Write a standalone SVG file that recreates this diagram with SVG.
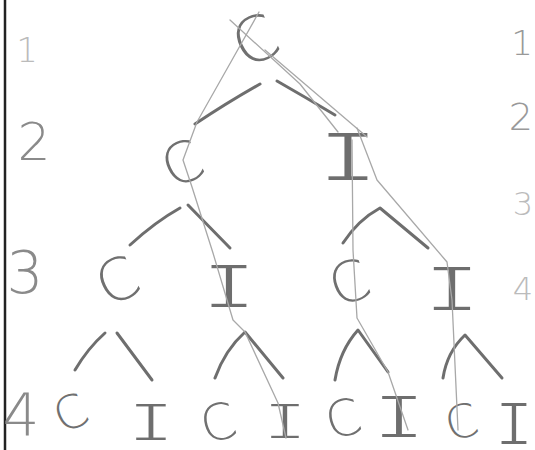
<svg xmlns="http://www.w3.org/2000/svg" width="535" height="450" viewBox="0 0 535 450">
<style>
.c{font-family:"DejaVu Sans","Liberation Sans",sans-serif;font-weight:200;fill:#707070;text-anchor:middle}
.i{font-family:"Liberation Mono","DejaVu Sans Mono",monospace;fill:#6e6e6e;stroke:#fff;stroke-width:1.8;text-anchor:middle}
.lb{font-family:"DejaVu Sans","Liberation Sans",sans-serif;font-weight:200;fill:#8a8a8a}
.e{fill:none;stroke:#6e6e6e;stroke-width:3;stroke-linecap:round;stroke-linejoin:round}
.t{fill:none;stroke:#a8a8a8;stroke-width:1.3;stroke-linecap:round;stroke-linejoin:round}
</style>
<rect width="535" height="450" fill="#fff"/>
<line x1="5" y1="0" x2="5" y2="450" stroke="#222" stroke-width="2.5"/>
<g id="labels">
<text class="lb" x="27" y="62" font-size="34" text-anchor="middle" style="fill:#bbb">1</text>
<text class="lb" x="34" y="160" font-size="52" text-anchor="middle">2</text>
<text class="lb" x="25" y="293" font-size="58" text-anchor="middle">3</text>
<text class="lb" x="21" y="435" font-size="58" text-anchor="middle">4</text>
<text class="lb" x="533" y="55" font-size="34" text-anchor="end" style="fill:#999">1</text>
<text class="lb" x="533" y="130" font-size="38" text-anchor="end" style="fill:#999">2</text>
<text class="lb" x="533" y="215" font-size="32" text-anchor="end" style="fill:#bbb">3</text>
<text class="lb" x="533" y="300" font-size="32" text-anchor="end" style="fill:#bbb">4</text>
</g>
<g id="n1"><text class="c" x="255" y="62" font-size="62" transform="rotate(-25 255 40)">C</text></g>
<g id="n2"><text class="c" x="182" y="183" font-size="56" transform="rotate(-25 182 163)">C</text></g>
<g id="n3"><text class="i" x="348" y="181" font-size="74" textLength="62" lengthAdjust="spacingAndGlyphs">I</text></g>
<g id="n4"><text class="c" x="117" y="301" font-size="58" transform="rotate(-25 117 280)">C</text></g>
<g id="n5"><text class="i" x="229" y="308" font-size="67" textLength="56" lengthAdjust="spacingAndGlyphs">I</text></g>
<g id="n6"><text class="c" x="349" y="302" font-size="56" transform="rotate(-20 349 282)">C</text></g>
<g id="n7"><text class="i" x="452" y="311" font-size="69" textLength="58" lengthAdjust="spacingAndGlyphs">I</text></g>
<g id="n8"><text class="c" x="70" y="429" font-size="46" transform="rotate(-25 70 412)">C</text></g>
<g id="n9"><text class="i" x="151" y="441" font-size="57" textLength="48" lengthAdjust="spacingAndGlyphs">I</text></g>
<g id="n10"><text class="c" x="218" y="440" font-size="50" transform="rotate(-15 218 422)">C</text></g>
<g id="n11"><text class="i" x="285" y="439" font-size="54" textLength="45" lengthAdjust="spacingAndGlyphs">I</text></g>
<g id="n12"><text class="c" x="343" y="436" font-size="50" transform="rotate(-15 343 418)">C</text></g>
<g id="n13"><text class="i" x="399" y="438" font-size="64" textLength="54" lengthAdjust="spacingAndGlyphs">I</text></g>
<g id="n14"><text class="c" x="461" y="438" font-size="46" transform="rotate(-15 461 421)">C</text></g>
<g id="n15"><text class="i" x="514" y="445" font-size="65" textLength="40" lengthAdjust="spacingAndGlyphs">I</text></g>
<g id="connectors">
<path class="e" d="M260,84 Q228,102 195,124"/>
<path class="e" d="M277,81 Q305,97 335,115"/>
<path class="e" d="M180,208 Q155,222 130,245"/>
<path class="e" d="M188,205 L230,248"/>
<path class="e" d="M343,243 Q358,220 380,208 L428,248"/>
<path class="e" d="M105,333 Q88,348 75,370"/>
<path class="e" d="M117,333 L152,380"/>
<path class="e" d="M215,378 Q225,350 245,332 L283,378"/>
<path class="e" d="M335,380 Q340,350 358,330 L388,372"/>
<path class="e" d="M443,378 Q447,352 465,335 L502,378"/>
<path class="t" d="M259,12 L232,60 L197,122 L183,160 L192,187 L213,253 L233,320 L245,332 L278,403 L286,438"/>
<path class="t" d="M230,20 L300,84 L338,132"/>
<path class="t" d="M265,50 L367,137"/>
<path class="t" d="M352,140 L353,250 L357,318 L388,372 L408,430"/>
<path class="t" d="M357,128 L377,180 L447,262 L452,300 L458,430"/>
</g>
</svg>
